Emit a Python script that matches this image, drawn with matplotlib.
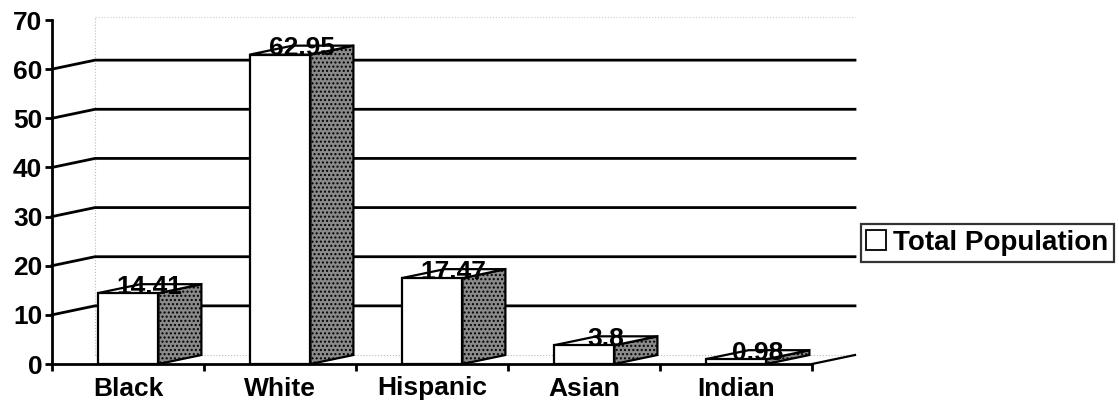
import matplotlib.pyplot as plt
from matplotlib.patches import Polygon, Rectangle
from matplotlib.lines import Line2D

categories = ['Black', 'White', 'Hispanic', 'Asian', 'Indian']
values = [14.41, 62.95, 17.47, 3.8, 0.98]
value_labels = ['14.41', '62.95', '17.47', '3.8', '0.98']
yticks = [0, 10, 20, 30, 40, 50, 60, 70]
series_name = 'Total Population'

plt.rcParams['font.family'] = ['Liberation Sans', 'DejaVu Sans']
plt.rcParams['font.weight'] = 'bold'
plt.rcParams['hatch.color'] = '#444444'

fig = plt.figure(figsize=(11.19, 4.09), dpi=100)
W, H = 1119, 409
# front plane: x 52..812 px, y 364 (0) .. 20 (70)
ax = fig.add_axes([52 / W, (H - 364) / H, 760 / W, 344 / H])
ax.set_xlim(0, len(categories))
ax.set_ylim(0, 70)

px_x = len(categories) / 760.0
px_y = 70 / 344.0
dx = 43 * px_x   # depth offset
dy = 9 * px_y
half = 0.2

# back wall / floor (faint)
right = len(categories) + dx
ax.plot([dx, dx], [dy, 70 + dy - 1.2], color='#bbbbbb', lw=0.8, ls=':', clip_on=False, zorder=1)
ax.plot([dx, right], [70 + dy - 1.2, 70 + dy - 1.2], color='#cccccc', lw=0.8, ls=':', clip_on=False, zorder=1)
ax.plot([dx, right], [dy, dy], color='#bbbbbb', lw=0.8, ls=':', clip_on=False, zorder=1)
ax.plot([len(categories), right], [0, dy], color='black', lw=1.6, clip_on=False, zorder=2)

# gridlines (back wall + side connector)
for t in yticks[1:-1]:
    ax.plot([0, dx, right], [t, t + dy, t + dy], color='black', lw=2,
            clip_on=False, zorder=1)

# 3D-ish bars
for i, v in enumerate(values):
    c = i + 0.5
    x0, x1 = c - half, c + half
    side = Polygon([(x1, 0), (x1 + dx, dy), (x1 + dx, v + dy), (x1, v)],
                   closed=True, facecolor='#8a8a8a', edgecolor='black', lw=1.6,
                   hatch='....', zorder=3, clip_on=False)
    top = Polygon([(x0, v), (x0 + dx, v + dy), (x1 + dx, v + dy), (x1, v)],
                  closed=True, facecolor='white', edgecolor='black', lw=1.6,
                  zorder=3, clip_on=False)
    front = Rectangle((x0, 0), x1 - x0, v, facecolor='white', edgecolor='black',
                      lw=1.6, zorder=4, clip_on=False)
    ax.add_patch(side)
    ax.add_patch(top)
    ax.add_patch(front)
    ax.text(c + dx / 2, v + dy * 0.7, value_labels[i], ha='center', va='center',
            fontsize=19, fontweight='bold', zorder=5)

for s in ['top', 'right']:
    ax.spines[s].set_visible(False)
ax.spines['left'].set_linewidth(2)
ax.spines['bottom'].set_linewidth(2)
ax.set_yticks(yticks)
ax.set_yticklabels([str(t) for t in yticks], fontsize=19, fontweight='bold')
ax.set_xticks(range(len(categories) + 1))
ax.set_xticklabels([])
ax.set_xticks([i + 0.5 for i in range(len(categories))], minor=True)
ax.set_xticklabels(categories, minor=True, fontsize=19, fontweight='bold')
ax.tick_params(axis='x', which='minor', length=0, pad=9)
ax.tick_params(axis='x', which='major', direction='out', length=5, width=2)
ax.tick_params(axis='y', direction='out', length=5, width=2, pad=2)

handle = Line2D([], [], marker='s', color='none', markerfacecolor='white',
                markeredgecolor='black', markersize=14, markeredgewidth=1.3)
leg = fig.legend([handle], [series_name], loc='center left',
                 bbox_to_anchor=(861 / W, 1 - 243 / H), frameon=True,
                 fancybox=False, edgecolor='black', handlelength=0.7,
                 handletextpad=0.25, borderpad=0.2, borderaxespad=0,
                 prop={'size': 20, 'weight': 'bold'})
leg.get_frame().set_linewidth(1.6)

fig.savefig('out.png', dpi=100)
